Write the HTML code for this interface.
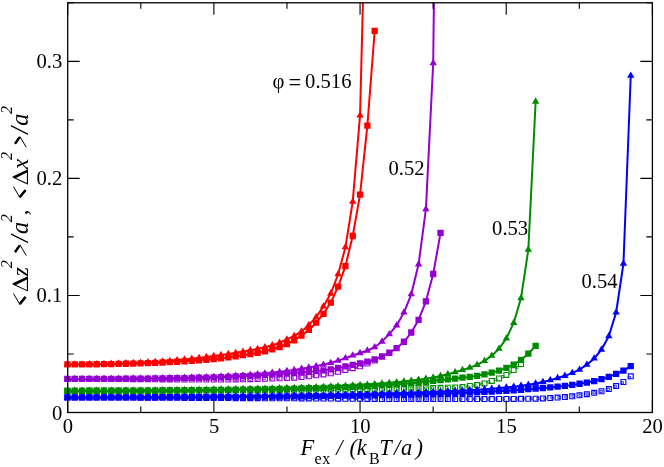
<!DOCTYPE html>
<html><head><meta charset="utf-8"><title>chart</title>
<style>
html,body{margin:0;padding:0;background:#fff;}
body{width:664px;height:467px;overflow:hidden;}
svg{display:block;font-family:"Liberation Serif",serif;font-size:20.6px;fill:#000;}
</style></head><body>
<svg width="664" height="467" viewBox="0 0 664 467">
<rect width="664" height="467" fill="#fff"/>
<defs><clipPath id="c2"><rect x="0" y="2.8" width="664" height="419.7"/></clipPath></defs>
<g clip-path="url(#c2)">
<polyline fill="none" stroke="#ff0000" stroke-width="2.0" stroke-linejoin="round" points="67.4,364.46 74.72,364.42 82.03,364.33 89.35,364.23 96.67,364.11 103.98,363.96 111.3,363.77 118.61,363.54 125.93,363.29 133.25,363.01 140.56,362.68 147.88,362.31 155.19,361.89 162.51,361.41 169.83,360.85 177.14,360.23 184.46,359.55 191.78,358.79 199.09,357.94 206.41,357.01 213.73,356.04 221.04,355.04 228.36,353.98 235.67,352.84 242.99,351.59 250.31,350.27 257.62,348.85 264.94,347.22 272.25,345.28 279.57,342.66 286.89,339.43 294.2,335.87 301.52,331.47 308.84,325.03 316.15,317.08 323.47,306.43 330.79,293.56 338.1,274.26 345.42,247.23 352.73,201.6 360.05,115.37 367.37,-172.8"/>
<path fill="#ff0000" d="M67.4 360.26L71.1 366.56L63.7 366.56zM74.72 360.22L78.42 366.52L71.02 366.52zM82.03 360.13L85.73 366.43L78.33 366.43zM89.35 360.03L93.05 366.33L85.65 366.33zM96.67 359.91L100.37 366.21L92.97 366.21zM103.98 359.76L107.68 366.06L100.28 366.06zM111.3 359.57L115 365.87L107.6 365.87zM118.61 359.34L122.31 365.64L114.91 365.64zM125.93 359.09L129.63 365.39L122.23 365.39zM133.25 358.81L136.95 365.11L129.55 365.11zM140.56 358.48L144.26 364.78L136.86 364.78zM147.88 358.11L151.58 364.41L144.18 364.41zM155.19 357.69L158.89 363.99L151.5 363.99zM162.51 357.21L166.21 363.51L158.81 363.51zM169.83 356.65L173.53 362.95L166.13 362.95zM177.14 356.03L180.84 362.33L173.44 362.33zM184.46 355.35L188.16 361.65L180.76 361.65zM191.78 354.59L195.48 360.89L188.08 360.89zM199.09 353.74L202.79 360.04L195.39 360.04zM206.41 352.81L210.11 359.11L202.71 359.11zM213.73 351.84L217.43 358.14L210.03 358.14zM221.04 350.84L224.74 357.14L217.34 357.14zM228.36 349.78L232.06 356.08L224.66 356.08zM235.67 348.64L239.37 354.94L231.97 354.94zM242.99 347.39L246.69 353.69L239.29 353.69zM250.31 346.07L254.01 352.37L246.61 352.37zM257.62 344.65L261.32 350.95L253.92 350.95zM264.94 343.02L268.64 349.32L261.24 349.32zM272.25 341.08L275.95 347.38L268.56 347.38zM279.57 338.46L283.27 344.76L275.87 344.76zM286.89 335.23L290.59 341.53L283.19 341.53zM294.2 331.67L297.9 337.97L290.5 337.97zM301.52 327.27L305.22 333.57L297.82 333.57zM308.84 320.83L312.54 327.13L305.14 327.13zM316.15 312.88L319.85 319.18L312.45 319.18zM323.47 302.23L327.17 308.53L319.77 308.53zM330.79 289.36L334.49 295.66L327.09 295.66zM338.1 270.06L341.8 276.36L334.4 276.36zM345.42 243.03L349.12 249.33L341.72 249.33zM352.73 197.4L356.43 203.7L349.03 203.7zM360.05 111.17L363.75 117.47L356.35 117.47zM367.37 -177L371.07 -170.7L363.67 -170.7z"/>
<polyline fill="none" stroke="#ff0000" stroke-width="2.0" stroke-linejoin="round" points="67.4,364.46 74.72,364.43 82.03,364.37 89.35,364.3 96.67,364.23 103.98,364.14 111.3,364.03 118.61,363.91 125.93,363.76 133.25,363.58 140.56,363.36 147.88,363.11 155.19,362.83 162.51,362.51 169.83,362.14 177.14,361.74 184.46,361.31 191.78,360.86 199.09,360.37 206.41,359.83 213.73,359.2 221.04,358.4 228.36,357.42 235.67,356.33 242.99,355.22 250.31,354.13 257.62,352.88 264.94,351.28 272.25,349.37 279.57,347.15 286.89,343.99 294.2,340.36 301.52,335.56 308.84,329.95 316.15,322.69 323.47,313.8 330.79,302.57 338.1,286.54 345.42,266.18 352.73,236 360.05,194.58 367.37,125.55 374.68,30.78"/>
<path fill="#ff0000" d="M64.25 361.31h6.3v6.3h-6.3zM71.57 361.28h6.3v6.3h-6.3zM78.88 361.22h6.3v6.3h-6.3zM86.2 361.15h6.3v6.3h-6.3zM93.52 361.08h6.3v6.3h-6.3zM100.83 360.99h6.3v6.3h-6.3zM108.15 360.88h6.3v6.3h-6.3zM115.46 360.76h6.3v6.3h-6.3zM122.78 360.61h6.3v6.3h-6.3zM130.1 360.43h6.3v6.3h-6.3zM137.41 360.21h6.3v6.3h-6.3zM144.73 359.96h6.3v6.3h-6.3zM152.04 359.68h6.3v6.3h-6.3zM159.36 359.36h6.3v6.3h-6.3zM166.68 358.99h6.3v6.3h-6.3zM173.99 358.59h6.3v6.3h-6.3zM181.31 358.16h6.3v6.3h-6.3zM188.63 357.71h6.3v6.3h-6.3zM195.94 357.22h6.3v6.3h-6.3zM203.26 356.68h6.3v6.3h-6.3zM210.58 356.05h6.3v6.3h-6.3zM217.89 355.25h6.3v6.3h-6.3zM225.21 354.27h6.3v6.3h-6.3zM232.52 353.18h6.3v6.3h-6.3zM239.84 352.07h6.3v6.3h-6.3zM247.16 350.98h6.3v6.3h-6.3zM254.47 349.73h6.3v6.3h-6.3zM261.79 348.13h6.3v6.3h-6.3zM269.11 346.22h6.3v6.3h-6.3zM276.42 344h6.3v6.3h-6.3zM283.74 340.84h6.3v6.3h-6.3zM291.05 337.21h6.3v6.3h-6.3zM298.37 332.41h6.3v6.3h-6.3zM305.69 326.8h6.3v6.3h-6.3zM313 319.55h6.3v6.3h-6.3zM320.32 310.65h6.3v6.3h-6.3zM327.64 299.42h6.3v6.3h-6.3zM334.95 283.39h6.3v6.3h-6.3zM342.27 263.03h6.3v6.3h-6.3zM349.58 232.85h6.3v6.3h-6.3zM356.9 191.43h6.3v6.3h-6.3zM364.22 122.4h6.3v6.3h-6.3zM371.53 27.63h6.3v6.3h-6.3z"/>
<path fill="#ffffff" stroke="#9400d3" stroke-width="1.1" d="M64.95 376.52h4.9v4.9h-4.9zM72.27 376.52h4.9v4.9h-4.9zM79.58 376.53h4.9v4.9h-4.9zM86.9 376.54h4.9v4.9h-4.9zM94.22 376.56h4.9v4.9h-4.9zM101.53 376.57h4.9v4.9h-4.9zM108.85 376.59h4.9v4.9h-4.9zM116.16 376.61h4.9v4.9h-4.9zM123.48 376.64h4.9v4.9h-4.9zM130.8 376.68h4.9v4.9h-4.9zM138.11 376.74h4.9v4.9h-4.9zM145.43 376.81h4.9v4.9h-4.9zM152.75 376.87h4.9v4.9h-4.9zM160.06 376.94h4.9v4.9h-4.9zM167.38 377.02h4.9v4.9h-4.9zM174.69 377.08h4.9v4.9h-4.9zM182.01 377.11h4.9v4.9h-4.9zM189.33 377.11h4.9v4.9h-4.9zM196.64 377.11h4.9v4.9h-4.9zM203.96 377.11h4.9v4.9h-4.9zM211.28 377.11h4.9v4.9h-4.9zM218.59 377.09h4.9v4.9h-4.9zM225.91 377.03h4.9v4.9h-4.9zM233.22 376.96h4.9v4.9h-4.9zM240.54 376.87h4.9v4.9h-4.9zM247.86 376.76h4.9v4.9h-4.9zM255.17 376.59h4.9v4.9h-4.9zM262.49 376.39h4.9v4.9h-4.9zM269.81 376.17h4.9v4.9h-4.9zM277.12 375.91h4.9v4.9h-4.9zM284.44 375.59h4.9v4.9h-4.9zM291.75 375.18h4.9v4.9h-4.9zM299.07 374.65h4.9v4.9h-4.9zM306.39 373.85h4.9v4.9h-4.9zM313.7 372.89h4.9v4.9h-4.9zM321.02 371.98h4.9v4.9h-4.9zM328.34 370.91h4.9v4.9h-4.9zM335.65 369.4h4.9v4.9h-4.9zM342.97 367.63h4.9v4.9h-4.9zM350.28 365.76h4.9v4.9h-4.9zM357.6 363.89h4.9v4.9h-4.9zM364.92 361.08h4.9v4.9h-4.9zM372.23 358.04h4.9v4.9h-4.9z"/>
<path fill="none" stroke="#9400d3" stroke-width="0.8" d="M66.25 377.82h2.3v2.3h-2.3zM73.27 377.82h2.3v2.3h-2.3zM80.3 377.83h2.3v2.3h-2.3zM87.32 377.84h2.3v2.3h-2.3zM94.34 377.85h2.3v2.3h-2.3zM101.37 377.87h2.3v2.3h-2.3zM108.39 377.89h2.3v2.3h-2.3zM115.42 377.91h2.3v2.3h-2.3zM122.44 377.93h2.3v2.3h-2.3zM129.46 377.96h2.3v2.3h-2.3zM136.49 378.01h2.3v2.3h-2.3zM143.51 378.08h2.3v2.3h-2.3zM150.53 378.14h2.3v2.3h-2.3zM157.56 378.2h2.3v2.3h-2.3zM164.58 378.28h2.3v2.3h-2.3zM171.6 378.35h2.3v2.3h-2.3zM178.63 378.4h2.3v2.3h-2.3zM185.65 378.41h2.3v2.3h-2.3zM192.67 378.41h2.3v2.3h-2.3zM199.7 378.41h2.3v2.3h-2.3zM206.72 378.41h2.3v2.3h-2.3zM213.75 378.41h2.3v2.3h-2.3zM220.77 378.38h2.3v2.3h-2.3zM227.79 378.33h2.3v2.3h-2.3zM234.82 378.26h2.3v2.3h-2.3zM241.84 378.17h2.3v2.3h-2.3zM248.86 378.06h2.3v2.3h-2.3zM255.89 377.91h2.3v2.3h-2.3zM262.91 377.72h2.3v2.3h-2.3zM269.93 377.51h2.3v2.3h-2.3zM276.96 377.27h2.3v2.3h-2.3zM283.98 376.97h2.3v2.3h-2.3zM291.01 376.6h2.3v2.3h-2.3zM298.03 376.14h2.3v2.3h-2.3zM305.05 375.48h2.3v2.3h-2.3zM312.08 374.58h2.3v2.3h-2.3zM319.1 373.68h2.3v2.3h-2.3zM326.12 372.76h2.3v2.3h-2.3zM333.15 371.54h2.3v2.3h-2.3zM340.17 369.93h2.3v2.3h-2.3zM347.19 368.2h2.3v2.3h-2.3zM354.22 366.41h2.3v2.3h-2.3zM361.24 364.38h2.3v2.3h-2.3zM368.26 361.55h2.3v2.3h-2.3z"/>
<polyline fill="none" stroke="#9400d3" stroke-width="2.0" stroke-linejoin="round" points="67.4,378.97 74.72,378.96 82.03,378.93 89.35,378.9 96.67,378.85 103.98,378.8 111.3,378.74 118.61,378.68 125.93,378.62 133.25,378.55 140.56,378.46 147.88,378.36 155.19,378.24 162.51,378.12 169.83,377.98 177.14,377.84 184.46,377.69 191.78,377.52 199.09,377.33 206.41,377.11 213.73,376.87 221.04,376.57 228.36,376.22 235.67,375.81 242.99,375.34 250.31,374.8 257.62,374.15 264.94,373.42 272.25,372.65 279.57,371.83 286.89,370.9 294.2,369.88 301.52,368.75 308.84,367.51 316.15,366.13 323.47,364.6 330.79,362.83 338.1,360.65 345.42,358.1 352.73,355.45 360.05,353.05 367.37,350.57 374.68,347.26 382,341.53 389.32,334.16 396.63,325.39 403.95,312.52 411.26,294.26 418.58,264.31 425.9,209.09 433.21,63.07 440.53,-582.3"/>
<path fill="#9400d3" d="M67.4 374.77L71.1 381.07L63.7 381.07zM74.72 374.76L78.42 381.06L71.02 381.06zM82.03 374.73L85.73 381.03L78.33 381.03zM89.35 374.7L93.05 381L85.65 381zM96.67 374.65L100.37 380.95L92.97 380.95zM103.98 374.6L107.68 380.9L100.28 380.9zM111.3 374.54L115 380.84L107.6 380.84zM118.61 374.48L122.31 380.78L114.91 380.78zM125.93 374.42L129.63 380.72L122.23 380.72zM133.25 374.35L136.95 380.65L129.55 380.65zM140.56 374.26L144.26 380.56L136.86 380.56zM147.88 374.16L151.58 380.46L144.18 380.46zM155.19 374.04L158.89 380.34L151.5 380.34zM162.51 373.92L166.21 380.22L158.81 380.22zM169.83 373.78L173.53 380.08L166.13 380.08zM177.14 373.64L180.84 379.94L173.44 379.94zM184.46 373.49L188.16 379.79L180.76 379.79zM191.78 373.32L195.48 379.62L188.08 379.62zM199.09 373.13L202.79 379.43L195.39 379.43zM206.41 372.91L210.11 379.21L202.71 379.21zM213.73 372.67L217.43 378.97L210.03 378.97zM221.04 372.37L224.74 378.67L217.34 378.67zM228.36 372.02L232.06 378.32L224.66 378.32zM235.67 371.61L239.37 377.91L231.97 377.91zM242.99 371.14L246.69 377.44L239.29 377.44zM250.31 370.6L254.01 376.9L246.61 376.9zM257.62 369.95L261.32 376.25L253.92 376.25zM264.94 369.22L268.64 375.52L261.24 375.52zM272.25 368.45L275.95 374.75L268.56 374.75zM279.57 367.63L283.27 373.93L275.87 373.93zM286.89 366.7L290.59 373L283.19 373zM294.2 365.68L297.9 371.98L290.5 371.98zM301.52 364.55L305.22 370.85L297.82 370.85zM308.84 363.31L312.54 369.61L305.14 369.61zM316.15 361.93L319.85 368.23L312.45 368.23zM323.47 360.4L327.17 366.7L319.77 366.7zM330.79 358.63L334.49 364.93L327.09 364.93zM338.1 356.45L341.8 362.75L334.4 362.75zM345.42 353.9L349.12 360.2L341.72 360.2zM352.73 351.25L356.43 357.56L349.03 357.56zM360.05 348.85L363.75 355.15L356.35 355.15zM367.37 346.37L371.07 352.67L363.67 352.67zM374.68 343.06L378.38 349.37L370.98 349.37zM382 337.33L385.7 343.63L378.3 343.63zM389.32 329.96L393.02 336.26L385.62 336.26zM396.63 321.19L400.33 327.49L392.93 327.49zM403.95 308.32L407.65 314.62L400.25 314.62zM411.26 290.06L414.96 296.36L407.56 296.36zM418.58 260.11L422.28 266.41L414.88 266.41zM425.9 204.89L429.6 211.19L422.2 211.19zM433.21 58.87L436.91 65.17L429.51 65.17zM440.53 -586.5L444.23 -580.2L436.83 -580.2z"/>
<polyline fill="none" stroke="#9400d3" stroke-width="2.0" stroke-linejoin="round" points="67.4,378.97 74.72,378.97 82.03,378.95 89.35,378.93 96.67,378.9 103.98,378.86 111.3,378.82 118.61,378.78 125.93,378.74 133.25,378.69 140.56,378.62 147.88,378.55 155.19,378.46 162.51,378.37 169.83,378.27 177.14,378.15 184.46,378.04 191.78,377.9 199.09,377.73 206.41,377.54 213.73,377.33 221.04,377.09 228.36,376.81 235.67,376.5 242.99,376.16 250.31,375.8 257.62,375.4 264.94,374.97 272.25,374.53 279.57,374.07 286.89,373.59 294.2,373.09 301.52,372.54 308.84,371.88 316.15,371.13 323.47,370.33 330.79,369.38 338.1,368.02 345.42,366.45 352.73,364.93 360.05,363.29 367.37,361.54 374.68,359.32 382,356.51 389.32,352.76 396.63,348.2 403.95,341.77 411.26,332.52 418.58,319.89 425.9,301.28 433.21,274.02 440.53,232.84"/>
<path fill="#9400d3" d="M64.25 375.82h6.3v6.3h-6.3zM71.57 375.82h6.3v6.3h-6.3zM78.88 375.8h6.3v6.3h-6.3zM86.2 375.78h6.3v6.3h-6.3zM93.52 375.75h6.3v6.3h-6.3zM100.83 375.71h6.3v6.3h-6.3zM108.15 375.67h6.3v6.3h-6.3zM115.46 375.63h6.3v6.3h-6.3zM122.78 375.59h6.3v6.3h-6.3zM130.1 375.54h6.3v6.3h-6.3zM137.41 375.47h6.3v6.3h-6.3zM144.73 375.4h6.3v6.3h-6.3zM152.04 375.31h6.3v6.3h-6.3zM159.36 375.22h6.3v6.3h-6.3zM166.68 375.12h6.3v6.3h-6.3zM173.99 375h6.3v6.3h-6.3zM181.31 374.89h6.3v6.3h-6.3zM188.63 374.75h6.3v6.3h-6.3zM195.94 374.58h6.3v6.3h-6.3zM203.26 374.39h6.3v6.3h-6.3zM210.58 374.18h6.3v6.3h-6.3zM217.89 373.94h6.3v6.3h-6.3zM225.21 373.66h6.3v6.3h-6.3zM232.52 373.35h6.3v6.3h-6.3zM239.84 373.01h6.3v6.3h-6.3zM247.16 372.65h6.3v6.3h-6.3zM254.47 372.25h6.3v6.3h-6.3zM261.79 371.82h6.3v6.3h-6.3zM269.11 371.38h6.3v6.3h-6.3zM276.42 370.92h6.3v6.3h-6.3zM283.74 370.44h6.3v6.3h-6.3zM291.05 369.94h6.3v6.3h-6.3zM298.37 369.39h6.3v6.3h-6.3zM305.69 368.73h6.3v6.3h-6.3zM313 367.98h6.3v6.3h-6.3zM320.32 367.18h6.3v6.3h-6.3zM327.64 366.23h6.3v6.3h-6.3zM334.95 364.87h6.3v6.3h-6.3zM342.27 363.3h6.3v6.3h-6.3zM349.58 361.78h6.3v6.3h-6.3zM356.9 360.14h6.3v6.3h-6.3zM364.22 358.39h6.3v6.3h-6.3zM371.53 356.17h6.3v6.3h-6.3zM378.85 353.36h6.3v6.3h-6.3zM386.17 349.61h6.3v6.3h-6.3zM393.48 345.05h6.3v6.3h-6.3zM400.8 338.62h6.3v6.3h-6.3zM408.11 329.37h6.3v6.3h-6.3zM415.43 316.74h6.3v6.3h-6.3zM422.75 298.13h6.3v6.3h-6.3zM430.06 270.87h6.3v6.3h-6.3zM437.38 229.69h6.3v6.3h-6.3z"/>
<path fill="#ffffff" stroke="#008b00" stroke-width="1.1" d="M64.95 388.34h4.9v4.9h-4.9zM72.27 388.34h4.9v4.9h-4.9zM79.58 388.33h4.9v4.9h-4.9zM86.9 388.33h4.9v4.9h-4.9zM94.22 388.32h4.9v4.9h-4.9zM101.53 388.31h4.9v4.9h-4.9zM108.85 388.3h4.9v4.9h-4.9zM116.16 388.28h4.9v4.9h-4.9zM123.48 388.27h4.9v4.9h-4.9zM130.8 388.25h4.9v4.9h-4.9zM138.11 388.23h4.9v4.9h-4.9zM145.43 388.21h4.9v4.9h-4.9zM152.75 388.19h4.9v4.9h-4.9zM160.06 388.17h4.9v4.9h-4.9zM167.38 388.15h4.9v4.9h-4.9zM174.69 388.13h4.9v4.9h-4.9zM182.01 388.11h4.9v4.9h-4.9zM189.33 388.08h4.9v4.9h-4.9zM196.64 388.05h4.9v4.9h-4.9zM203.96 388.01h4.9v4.9h-4.9zM211.28 387.97h4.9v4.9h-4.9zM218.59 387.93h4.9v4.9h-4.9zM225.91 387.88h4.9v4.9h-4.9zM233.22 387.83h4.9v4.9h-4.9zM240.54 387.78h4.9v4.9h-4.9zM247.86 387.72h4.9v4.9h-4.9zM255.17 387.67h4.9v4.9h-4.9zM262.49 387.61h4.9v4.9h-4.9zM269.81 387.54h4.9v4.9h-4.9zM277.12 387.48h4.9v4.9h-4.9zM284.44 387.42h4.9v4.9h-4.9zM291.75 387.35h4.9v4.9h-4.9zM299.07 387.29h4.9v4.9h-4.9zM306.39 387.22h4.9v4.9h-4.9zM313.7 387.14h4.9v4.9h-4.9zM321.02 387.07h4.9v4.9h-4.9zM328.34 386.98h4.9v4.9h-4.9zM335.65 386.9h4.9v4.9h-4.9zM342.97 386.81h4.9v4.9h-4.9zM350.28 386.72h4.9v4.9h-4.9zM357.6 386.63h4.9v4.9h-4.9zM364.92 386.53h4.9v4.9h-4.9zM372.23 386.44h4.9v4.9h-4.9zM379.55 386.35h4.9v4.9h-4.9zM386.87 386.26h4.9v4.9h-4.9zM394.18 386.18h4.9v4.9h-4.9zM401.5 386.09h4.9v4.9h-4.9zM408.81 386h4.9v4.9h-4.9zM416.13 385.88h4.9v4.9h-4.9zM423.45 385.75h4.9v4.9h-4.9zM430.76 385.58h4.9v4.9h-4.9zM438.08 385.39h4.9v4.9h-4.9zM445.4 385.18h4.9v4.9h-4.9zM452.71 384.95h4.9v4.9h-4.9zM460.03 384.59h4.9v4.9h-4.9zM467.34 383.54h4.9v4.9h-4.9zM474.66 382.61h4.9v4.9h-4.9zM481.98 380.97h4.9v4.9h-4.9zM489.29 378.51h4.9v4.9h-4.9zM496.61 375.94h4.9v4.9h-4.9zM503.93 372.43h4.9v4.9h-4.9zM511.24 367.63h4.9v4.9h-4.9zM518.56 361.66h4.9v4.9h-4.9z"/>
<path fill="none" stroke="#008b00" stroke-width="0.8" d="M66.25 389.64h2.3v2.3h-2.3zM73.27 389.64h2.3v2.3h-2.3zM80.3 389.63h2.3v2.3h-2.3zM87.32 389.63h2.3v2.3h-2.3zM94.34 389.62h2.3v2.3h-2.3zM101.37 389.61h2.3v2.3h-2.3zM108.39 389.6h2.3v2.3h-2.3zM115.42 389.59h2.3v2.3h-2.3zM122.44 389.57h2.3v2.3h-2.3zM129.46 389.56h2.3v2.3h-2.3zM136.49 389.54h2.3v2.3h-2.3zM143.51 389.52h2.3v2.3h-2.3zM150.53 389.5h2.3v2.3h-2.3zM157.56 389.48h2.3v2.3h-2.3zM164.58 389.46h2.3v2.3h-2.3zM171.6 389.44h2.3v2.3h-2.3zM178.63 389.42h2.3v2.3h-2.3zM185.65 389.4h2.3v2.3h-2.3zM192.67 389.37h2.3v2.3h-2.3zM199.7 389.34h2.3v2.3h-2.3zM206.72 389.31h2.3v2.3h-2.3zM213.75 389.27h2.3v2.3h-2.3zM220.77 389.23h2.3v2.3h-2.3zM227.79 389.18h2.3v2.3h-2.3zM234.82 389.13h2.3v2.3h-2.3zM241.84 389.08h2.3v2.3h-2.3zM248.86 389.03h2.3v2.3h-2.3zM255.89 388.97h2.3v2.3h-2.3zM262.91 388.91h2.3v2.3h-2.3zM269.93 388.85h2.3v2.3h-2.3zM276.96 388.79h2.3v2.3h-2.3zM283.98 388.73h2.3v2.3h-2.3zM291.01 388.67h2.3v2.3h-2.3zM298.03 388.61h2.3v2.3h-2.3zM305.05 388.54h2.3v2.3h-2.3zM312.08 388.47h2.3v2.3h-2.3zM319.1 388.4h2.3v2.3h-2.3zM326.12 388.32h2.3v2.3h-2.3zM333.15 388.24h2.3v2.3h-2.3zM340.17 388.16h2.3v2.3h-2.3zM347.19 388.07h2.3v2.3h-2.3zM354.22 387.98h2.3v2.3h-2.3zM361.24 387.9h2.3v2.3h-2.3zM368.26 387.81h2.3v2.3h-2.3zM375.29 387.72h2.3v2.3h-2.3zM382.31 387.63h2.3v2.3h-2.3zM389.34 387.55h2.3v2.3h-2.3zM396.36 387.47h2.3v2.3h-2.3zM403.38 387.39h2.3v2.3h-2.3zM410.41 387.29h2.3v2.3h-2.3zM417.43 387.18h2.3v2.3h-2.3zM424.45 387.05h2.3v2.3h-2.3zM431.48 386.9h2.3v2.3h-2.3zM438.5 386.72h2.3v2.3h-2.3zM445.52 386.52h2.3v2.3h-2.3zM452.55 386.3h2.3v2.3h-2.3zM459.57 386h2.3v2.3h-2.3zM466.6 385.16h2.3v2.3h-2.3zM473.62 384.24h2.3v2.3h-2.3zM480.64 382.94h2.3v2.3h-2.3zM487.67 380.85h2.3v2.3h-2.3zM494.69 378.43h2.3v2.3h-2.3zM501.71 375.55h2.3v2.3h-2.3zM508.74 371.59h2.3v2.3h-2.3zM515.76 366.47h2.3v2.3h-2.3z"/>
<polyline fill="none" stroke="#008b00" stroke-width="2.0" stroke-linejoin="round" points="67.4,390.79 74.72,390.78 82.03,390.76 89.35,390.74 96.67,390.71 103.98,390.67 111.3,390.64 118.61,390.6 125.93,390.56 133.25,390.51 140.56,390.45 147.88,390.38 155.19,390.31 162.51,390.23 169.83,390.15 177.14,390.06 184.46,389.97 191.78,389.88 199.09,389.78 206.41,389.67 213.73,389.55 221.04,389.43 228.36,389.3 235.67,389.17 242.99,389.03 250.31,388.89 257.62,388.74 264.94,388.58 272.25,388.42 279.57,388.24 286.89,388.05 294.2,387.85 301.52,387.63 308.84,387.39 316.15,387.13 323.47,386.84 330.79,386.53 338.1,386.2 345.42,385.84 352.73,385.46 360.05,385.06 367.37,384.61 374.68,384.12 382,383.56 389.32,382.95 396.63,382.26 403.95,381.46 411.26,380.6 418.58,379.67 425.9,378.71 433.21,377.57 440.53,376.02 447.85,374.18 455.16,372.09 462.48,369.85 469.79,367.62 477.11,364.81 484.43,360.84 491.74,355.69 499.06,348.67 506.38,338.37 513.69,322.93 521.01,298.12 528.32,249.69 535.64,101.56"/>
<path fill="#008b00" d="M67.4 386.59L71.1 392.89L63.7 392.89zM74.72 386.58L78.42 392.88L71.02 392.88zM82.03 386.56L85.73 392.86L78.33 392.86zM89.35 386.54L93.05 392.84L85.65 392.84zM96.67 386.51L100.37 392.81L92.97 392.81zM103.98 386.47L107.68 392.77L100.28 392.77zM111.3 386.44L115 392.74L107.6 392.74zM118.61 386.4L122.31 392.7L114.91 392.7zM125.93 386.36L129.63 392.66L122.23 392.66zM133.25 386.31L136.95 392.61L129.55 392.61zM140.56 386.25L144.26 392.55L136.86 392.55zM147.88 386.18L151.58 392.48L144.18 392.48zM155.19 386.11L158.89 392.41L151.5 392.41zM162.51 386.03L166.21 392.33L158.81 392.33zM169.83 385.95L173.53 392.25L166.13 392.25zM177.14 385.86L180.84 392.16L173.44 392.16zM184.46 385.77L188.16 392.07L180.76 392.07zM191.78 385.68L195.48 391.98L188.08 391.98zM199.09 385.58L202.79 391.88L195.39 391.88zM206.41 385.47L210.11 391.77L202.71 391.77zM213.73 385.35L217.43 391.65L210.03 391.65zM221.04 385.23L224.74 391.53L217.34 391.53zM228.36 385.1L232.06 391.4L224.66 391.4zM235.67 384.97L239.37 391.27L231.97 391.27zM242.99 384.83L246.69 391.13L239.29 391.13zM250.31 384.69L254.01 390.99L246.61 390.99zM257.62 384.54L261.32 390.84L253.92 390.84zM264.94 384.38L268.64 390.68L261.24 390.68zM272.25 384.22L275.95 390.52L268.56 390.52zM279.57 384.04L283.27 390.34L275.87 390.34zM286.89 383.85L290.59 390.15L283.19 390.15zM294.2 383.65L297.9 389.95L290.5 389.95zM301.52 383.43L305.22 389.73L297.82 389.73zM308.84 383.19L312.54 389.49L305.14 389.49zM316.15 382.93L319.85 389.23L312.45 389.23zM323.47 382.64L327.17 388.94L319.77 388.94zM330.79 382.33L334.49 388.63L327.09 388.63zM338.1 382L341.8 388.3L334.4 388.3zM345.42 381.64L349.12 387.94L341.72 387.94zM352.73 381.26L356.43 387.56L349.03 387.56zM360.05 380.86L363.75 387.16L356.35 387.16zM367.37 380.41L371.07 386.71L363.67 386.71zM374.68 379.92L378.38 386.22L370.98 386.22zM382 379.36L385.7 385.66L378.3 385.66zM389.32 378.75L393.02 385.05L385.62 385.05zM396.63 378.06L400.33 384.36L392.93 384.36zM403.95 377.26L407.65 383.56L400.25 383.56zM411.26 376.4L414.96 382.7L407.56 382.7zM418.58 375.47L422.28 381.77L414.88 381.77zM425.9 374.51L429.6 380.81L422.2 380.81zM433.21 373.37L436.91 379.67L429.51 379.67zM440.53 371.82L444.23 378.12L436.83 378.12zM447.85 369.98L451.55 376.28L444.15 376.28zM455.16 367.89L458.86 374.19L451.46 374.19zM462.48 365.65L466.18 371.95L458.78 371.95zM469.79 363.42L473.49 369.72L466.09 369.72zM477.11 360.62L480.81 366.92L473.41 366.92zM484.43 356.64L488.13 362.94L480.73 362.94zM491.74 351.49L495.44 357.79L488.04 357.79zM499.06 344.47L502.76 350.77L495.36 350.77zM506.38 334.17L510.08 340.47L502.68 340.47zM513.69 318.73L517.39 325.03L509.99 325.03zM521.01 293.92L524.71 300.22L517.31 300.22zM528.32 245.49L532.02 251.79L524.62 251.79zM535.64 97.36L539.34 103.66L531.94 103.66z"/>
<polyline fill="none" stroke="#008b00" stroke-width="2.0" stroke-linejoin="round" points="67.4,390.79 74.72,390.79 82.03,390.78 89.35,390.77 96.67,390.75 103.98,390.73 111.3,390.71 118.61,390.69 125.93,390.67 133.25,390.65 140.56,390.61 147.88,390.58 155.19,390.53 162.51,390.49 169.83,390.43 177.14,390.38 184.46,390.32 191.78,390.26 199.09,390.19 206.41,390.11 213.73,390.02 221.04,389.93 228.36,389.83 235.67,389.73 242.99,389.62 250.31,389.5 257.62,389.38 264.94,389.25 272.25,389.11 279.57,388.96 286.89,388.8 294.2,388.63 301.52,388.45 308.84,388.26 316.15,388.05 323.47,387.82 330.79,387.58 338.1,387.32 345.42,387.05 352.73,386.76 360.05,386.46 367.37,386.14 374.68,385.78 382,385.38 389.32,384.94 396.63,384.42 403.95,383.82 411.26,383.17 418.58,382.48 425.9,381.74 433.21,380.96 440.53,380.21 447.85,379.44 455.16,378.57 462.48,377.69 469.79,376.87 477.11,375.81 484.43,374.29 491.74,372.65 499.06,370.66 506.38,367.86 513.69,364.58 521.01,359.9 528.32,353.7 535.64,345.86"/>
<path fill="#008b00" d="M64.25 387.64h6.3v6.3h-6.3zM71.57 387.64h6.3v6.3h-6.3zM78.88 387.63h6.3v6.3h-6.3zM86.2 387.62h6.3v6.3h-6.3zM93.52 387.6h6.3v6.3h-6.3zM100.83 387.58h6.3v6.3h-6.3zM108.15 387.56h6.3v6.3h-6.3zM115.46 387.54h6.3v6.3h-6.3zM122.78 387.52h6.3v6.3h-6.3zM130.1 387.5h6.3v6.3h-6.3zM137.41 387.46h6.3v6.3h-6.3zM144.73 387.43h6.3v6.3h-6.3zM152.04 387.38h6.3v6.3h-6.3zM159.36 387.34h6.3v6.3h-6.3zM166.68 387.28h6.3v6.3h-6.3zM173.99 387.23h6.3v6.3h-6.3zM181.31 387.17h6.3v6.3h-6.3zM188.63 387.11h6.3v6.3h-6.3zM195.94 387.04h6.3v6.3h-6.3zM203.26 386.96h6.3v6.3h-6.3zM210.58 386.87h6.3v6.3h-6.3zM217.89 386.78h6.3v6.3h-6.3zM225.21 386.68h6.3v6.3h-6.3zM232.52 386.58h6.3v6.3h-6.3zM239.84 386.47h6.3v6.3h-6.3zM247.16 386.35h6.3v6.3h-6.3zM254.47 386.23h6.3v6.3h-6.3zM261.79 386.1h6.3v6.3h-6.3zM269.11 385.96h6.3v6.3h-6.3zM276.42 385.81h6.3v6.3h-6.3zM283.74 385.65h6.3v6.3h-6.3zM291.05 385.48h6.3v6.3h-6.3zM298.37 385.3h6.3v6.3h-6.3zM305.69 385.11h6.3v6.3h-6.3zM313 384.9h6.3v6.3h-6.3zM320.32 384.67h6.3v6.3h-6.3zM327.64 384.43h6.3v6.3h-6.3zM334.95 384.17h6.3v6.3h-6.3zM342.27 383.9h6.3v6.3h-6.3zM349.58 383.61h6.3v6.3h-6.3zM356.9 383.31h6.3v6.3h-6.3zM364.22 382.99h6.3v6.3h-6.3zM371.53 382.63h6.3v6.3h-6.3zM378.85 382.23h6.3v6.3h-6.3zM386.17 381.79h6.3v6.3h-6.3zM393.48 381.27h6.3v6.3h-6.3zM400.8 380.67h6.3v6.3h-6.3zM408.11 380.02h6.3v6.3h-6.3zM415.43 379.33h6.3v6.3h-6.3zM422.75 378.59h6.3v6.3h-6.3zM430.06 377.81h6.3v6.3h-6.3zM437.38 377.06h6.3v6.3h-6.3zM444.7 376.29h6.3v6.3h-6.3zM452.01 375.42h6.3v6.3h-6.3zM459.33 374.54h6.3v6.3h-6.3zM466.64 373.72h6.3v6.3h-6.3zM473.96 372.66h6.3v6.3h-6.3zM481.28 371.14h6.3v6.3h-6.3zM488.59 369.5h6.3v6.3h-6.3zM495.91 367.51h6.3v6.3h-6.3zM503.23 364.71h6.3v6.3h-6.3zM510.54 361.43h6.3v6.3h-6.3zM517.86 356.75h6.3v6.3h-6.3zM525.17 350.55h6.3v6.3h-6.3zM532.49 342.71h6.3v6.3h-6.3z"/>
<path fill="#ffffff" stroke="#0000ff" stroke-width="1.1" d="M64.95 395.01h4.9v4.9h-4.9zM72.27 395.01h4.9v4.9h-4.9zM79.58 395.02h4.9v4.9h-4.9zM86.9 395.04h4.9v4.9h-4.9zM94.22 395.05h4.9v4.9h-4.9zM101.53 395.07h4.9v4.9h-4.9zM108.85 395.09h4.9v4.9h-4.9zM116.16 395.1h4.9v4.9h-4.9zM123.48 395.12h4.9v4.9h-4.9zM130.8 395.15h4.9v4.9h-4.9zM138.11 395.18h4.9v4.9h-4.9zM145.43 395.21h4.9v4.9h-4.9zM152.75 395.25h4.9v4.9h-4.9zM160.06 395.3h4.9v4.9h-4.9zM167.38 395.34h4.9v4.9h-4.9zM174.69 395.39h4.9v4.9h-4.9zM182.01 395.43h4.9v4.9h-4.9zM189.33 395.48h4.9v4.9h-4.9zM196.64 395.52h4.9v4.9h-4.9zM203.96 395.56h4.9v4.9h-4.9zM211.28 395.59h4.9v4.9h-4.9zM218.59 395.63h4.9v4.9h-4.9zM225.91 395.65h4.9v4.9h-4.9zM233.22 395.68h4.9v4.9h-4.9zM240.54 395.71h4.9v4.9h-4.9zM247.86 395.74h4.9v4.9h-4.9zM255.17 395.76h4.9v4.9h-4.9zM262.49 395.79h4.9v4.9h-4.9zM269.81 395.82h4.9v4.9h-4.9zM277.12 395.84h4.9v4.9h-4.9zM284.44 395.87h4.9v4.9h-4.9zM291.75 395.91h4.9v4.9h-4.9zM299.07 395.94h4.9v4.9h-4.9zM306.39 395.99h4.9v4.9h-4.9zM313.7 396.04h4.9v4.9h-4.9zM321.02 396.1h4.9v4.9h-4.9zM328.34 396.17h4.9v4.9h-4.9zM335.65 396.24h4.9v4.9h-4.9zM342.97 396.3h4.9v4.9h-4.9zM350.28 396.36h4.9v4.9h-4.9zM357.6 396.42h4.9v4.9h-4.9zM364.92 396.47h4.9v4.9h-4.9zM372.23 396.51h4.9v4.9h-4.9zM379.55 396.53h4.9v4.9h-4.9zM386.87 396.54h4.9v4.9h-4.9zM394.18 396.56h4.9v4.9h-4.9zM401.5 396.57h4.9v4.9h-4.9zM408.81 396.59h4.9v4.9h-4.9zM416.13 396.6h4.9v4.9h-4.9zM423.45 396.61h4.9v4.9h-4.9zM430.76 396.62h4.9v4.9h-4.9zM438.08 396.63h4.9v4.9h-4.9zM445.4 396.63h4.9v4.9h-4.9zM452.71 396.64h4.9v4.9h-4.9zM460.03 396.64h4.9v4.9h-4.9zM467.34 396.65h4.9v4.9h-4.9zM474.66 396.65h4.9v4.9h-4.9zM481.98 396.64h4.9v4.9h-4.9zM489.29 396.61h4.9v4.9h-4.9zM496.61 396.57h4.9v4.9h-4.9zM503.93 396.53h4.9v4.9h-4.9zM511.24 396.48h4.9v4.9h-4.9zM518.56 396.4h4.9v4.9h-4.9zM525.87 396.3h4.9v4.9h-4.9zM533.19 396.18h4.9v4.9h-4.9zM540.51 395.94h4.9v4.9h-4.9zM547.82 395.59h4.9v4.9h-4.9zM555.14 395.12h4.9v4.9h-4.9zM562.45 394.66h4.9v4.9h-4.9zM569.77 393.84h4.9v4.9h-4.9zM577.09 392.9h4.9v4.9h-4.9zM584.4 391.73h4.9v4.9h-4.9zM591.72 390.33h4.9v4.9h-4.9zM599.04 388.81h4.9v4.9h-4.9zM606.35 386.58h4.9v4.9h-4.9zM613.67 383.66h4.9v4.9h-4.9zM620.99 379.56h4.9v4.9h-4.9zM628.3 373.83h4.9v4.9h-4.9z"/>
<path fill="none" stroke="#0000ff" stroke-width="0.8" d="M66.25 396.31h2.3v2.3h-2.3zM73.27 396.31h2.3v2.3h-2.3zM80.3 396.32h2.3v2.3h-2.3zM87.32 396.33h2.3v2.3h-2.3zM94.34 396.35h2.3v2.3h-2.3zM101.37 396.36h2.3v2.3h-2.3zM108.39 396.38h2.3v2.3h-2.3zM115.42 396.4h2.3v2.3h-2.3zM122.44 396.42h2.3v2.3h-2.3zM129.46 396.44h2.3v2.3h-2.3zM136.49 396.47h2.3v2.3h-2.3zM143.51 396.5h2.3v2.3h-2.3zM150.53 396.53h2.3v2.3h-2.3zM157.56 396.57h2.3v2.3h-2.3zM164.58 396.62h2.3v2.3h-2.3zM171.6 396.66h2.3v2.3h-2.3zM178.63 396.7h2.3v2.3h-2.3zM185.65 396.75h2.3v2.3h-2.3zM192.67 396.79h2.3v2.3h-2.3zM199.7 396.83h2.3v2.3h-2.3zM206.72 396.86h2.3v2.3h-2.3zM213.75 396.9h2.3v2.3h-2.3zM220.77 396.93h2.3v2.3h-2.3zM227.79 396.96h2.3v2.3h-2.3zM234.82 396.98h2.3v2.3h-2.3zM241.84 397.01h2.3v2.3h-2.3zM248.86 397.03h2.3v2.3h-2.3zM255.89 397.06h2.3v2.3h-2.3zM262.91 397.08h2.3v2.3h-2.3zM269.93 397.11h2.3v2.3h-2.3zM276.96 397.14h2.3v2.3h-2.3zM283.98 397.17h2.3v2.3h-2.3zM291.01 397.2h2.3v2.3h-2.3zM298.03 397.23h2.3v2.3h-2.3zM305.05 397.27h2.3v2.3h-2.3zM312.08 397.32h2.3v2.3h-2.3zM319.1 397.38h2.3v2.3h-2.3zM326.12 397.44h2.3v2.3h-2.3zM333.15 397.5h2.3v2.3h-2.3zM340.17 397.56h2.3v2.3h-2.3zM347.19 397.63h2.3v2.3h-2.3zM354.22 397.69h2.3v2.3h-2.3zM361.24 397.74h2.3v2.3h-2.3zM368.26 397.78h2.3v2.3h-2.3zM375.29 397.81h2.3v2.3h-2.3zM382.31 397.83h2.3v2.3h-2.3zM389.34 397.85h2.3v2.3h-2.3zM396.36 397.86h2.3v2.3h-2.3zM403.38 397.87h2.3v2.3h-2.3zM410.41 397.89h2.3v2.3h-2.3zM417.43 397.9h2.3v2.3h-2.3zM424.45 397.91h2.3v2.3h-2.3zM431.48 397.92h2.3v2.3h-2.3zM438.5 397.93h2.3v2.3h-2.3zM445.52 397.93h2.3v2.3h-2.3zM452.55 397.94h2.3v2.3h-2.3zM459.57 397.94h2.3v2.3h-2.3zM466.6 397.94h2.3v2.3h-2.3zM473.62 397.95h2.3v2.3h-2.3zM480.64 397.94h2.3v2.3h-2.3zM487.67 397.92h2.3v2.3h-2.3zM494.69 397.89h2.3v2.3h-2.3zM501.71 397.85h2.3v2.3h-2.3zM508.74 397.81h2.3v2.3h-2.3zM515.76 397.75h2.3v2.3h-2.3zM522.78 397.67h2.3v2.3h-2.3zM529.81 397.56h2.3v2.3h-2.3zM536.83 397.42h2.3v2.3h-2.3zM543.85 397.16h2.3v2.3h-2.3zM550.88 396.79h2.3v2.3h-2.3zM557.9 396.34h2.3v2.3h-2.3zM564.93 395.85h2.3v2.3h-2.3zM571.95 395.03h2.3v2.3h-2.3zM578.97 394.12h2.3v2.3h-2.3zM586 392.98h2.3v2.3h-2.3zM593.02 391.63h2.3v2.3h-2.3zM600.04 390.18h2.3v2.3h-2.3zM607.07 388.09h2.3v2.3h-2.3zM614.09 385.36h2.3v2.3h-2.3zM621.11 381.61h2.3v2.3h-2.3zM628.14 376.44h2.3v2.3h-2.3z"/>
<polyline fill="none" stroke="#0000ff" stroke-width="2.0" stroke-linejoin="round" points="67.4,397.46 74.72,397.44 82.03,397.42 89.35,397.4 96.67,397.37 103.98,397.33 111.3,397.3 118.61,397.26 125.93,397.22 133.25,397.18 140.56,397.13 147.88,397.07 155.19,397.01 162.51,396.94 169.83,396.86 177.14,396.79 184.46,396.71 191.78,396.63 199.09,396.56 206.41,396.48 213.73,396.4 221.04,396.33 228.36,396.26 235.67,396.19 242.99,396.13 250.31,396.06 257.62,395.98 264.94,395.91 272.25,395.83 279.57,395.75 286.89,395.66 294.2,395.57 301.52,395.47 308.84,395.36 316.15,395.23 323.47,395.1 330.79,394.95 338.1,394.8 345.42,394.63 352.73,394.46 360.05,394.28 367.37,394.1 374.68,393.91 382,393.71 389.32,393.51 396.63,393.29 403.95,393.05 411.26,392.8 418.58,392.54 425.9,392.28 433.21,392 440.53,391.7 447.85,391.37 455.16,391.02 462.48,390.63 469.79,390.2 477.11,389.74 484.43,389.24 491.74,388.69 499.06,388.08 506.38,387.4 513.69,386.62 521.01,385.73 528.32,384.71 535.64,383.53 542.96,382.01 550.27,380.14 557.59,378.04 564.9,375.81 572.22,373 579.54,369.61 586.85,364.7 594.17,358.5 601.49,349.6 608.8,336.15 616.12,312.52 623.44,263.73 630.75,75.71"/>
<path fill="#0000ff" d="M67.4 393.26L71.1 399.56L63.7 399.56zM74.72 393.24L78.42 399.54L71.02 399.54zM82.03 393.22L85.73 399.52L78.33 399.52zM89.35 393.2L93.05 399.5L85.65 399.5zM96.67 393.17L100.37 399.47L92.97 399.47zM103.98 393.13L107.68 399.43L100.28 399.43zM111.3 393.1L115 399.4L107.6 399.4zM118.61 393.06L122.31 399.36L114.91 399.36zM125.93 393.02L129.63 399.32L122.23 399.32zM133.25 392.98L136.95 399.28L129.55 399.28zM140.56 392.93L144.26 399.23L136.86 399.23zM147.88 392.87L151.58 399.17L144.18 399.17zM155.19 392.81L158.89 399.11L151.5 399.11zM162.51 392.74L166.21 399.04L158.81 399.04zM169.83 392.66L173.53 398.96L166.13 398.96zM177.14 392.59L180.84 398.89L173.44 398.89zM184.46 392.51L188.16 398.81L180.76 398.81zM191.78 392.43L195.48 398.73L188.08 398.73zM199.09 392.36L202.79 398.66L195.39 398.66zM206.41 392.28L210.11 398.58L202.71 398.58zM213.73 392.2L217.43 398.5L210.03 398.5zM221.04 392.13L224.74 398.43L217.34 398.43zM228.36 392.06L232.06 398.36L224.66 398.36zM235.67 391.99L239.37 398.29L231.97 398.29zM242.99 391.93L246.69 398.23L239.29 398.23zM250.31 391.86L254.01 398.16L246.61 398.16zM257.62 391.78L261.32 398.08L253.92 398.08zM264.94 391.71L268.64 398.01L261.24 398.01zM272.25 391.63L275.95 397.93L268.56 397.93zM279.57 391.55L283.27 397.85L275.87 397.85zM286.89 391.46L290.59 397.76L283.19 397.76zM294.2 391.37L297.9 397.67L290.5 397.67zM301.52 391.27L305.22 397.57L297.82 397.57zM308.84 391.16L312.54 397.46L305.14 397.46zM316.15 391.03L319.85 397.33L312.45 397.33zM323.47 390.9L327.17 397.2L319.77 397.2zM330.79 390.75L334.49 397.05L327.09 397.05zM338.1 390.6L341.8 396.9L334.4 396.9zM345.42 390.43L349.12 396.73L341.72 396.73zM352.73 390.26L356.43 396.56L349.03 396.56zM360.05 390.08L363.75 396.38L356.35 396.38zM367.37 389.9L371.07 396.2L363.67 396.2zM374.68 389.71L378.38 396.01L370.98 396.01zM382 389.51L385.7 395.81L378.3 395.81zM389.32 389.31L393.02 395.61L385.62 395.61zM396.63 389.09L400.33 395.39L392.93 395.39zM403.95 388.85L407.65 395.15L400.25 395.15zM411.26 388.6L414.96 394.9L407.56 394.9zM418.58 388.34L422.28 394.64L414.88 394.64zM425.9 388.08L429.6 394.38L422.2 394.38zM433.21 387.8L436.91 394.1L429.51 394.1zM440.53 387.5L444.23 393.8L436.83 393.8zM447.85 387.17L451.55 393.47L444.15 393.47zM455.16 386.82L458.86 393.12L451.46 393.12zM462.48 386.43L466.18 392.73L458.78 392.73zM469.79 386L473.49 392.3L466.09 392.3zM477.11 385.54L480.81 391.84L473.41 391.84zM484.43 385.04L488.13 391.34L480.73 391.34zM491.74 384.49L495.44 390.79L488.04 390.79zM499.06 383.88L502.76 390.18L495.36 390.18zM506.38 383.2L510.08 389.5L502.68 389.5zM513.69 382.42L517.39 388.72L509.99 388.72zM521.01 381.53L524.71 387.83L517.31 387.83zM528.32 380.51L532.02 386.81L524.62 386.81zM535.64 379.33L539.34 385.63L531.94 385.63zM542.96 377.81L546.66 384.11L539.26 384.11zM550.27 375.94L553.97 382.24L546.57 382.24zM557.59 373.84L561.29 380.14L553.89 380.14zM564.9 371.61L568.61 377.91L561.2 377.91zM572.22 368.81L575.92 375.11L568.52 375.11zM579.54 365.41L583.24 371.71L575.84 371.71zM586.85 360.5L590.55 366.8L583.15 366.8zM594.17 354.3L597.87 360.6L590.47 360.6zM601.49 345.4L605.19 351.7L597.79 351.7zM608.8 331.95L612.5 338.25L605.1 338.25zM616.12 308.32L619.82 314.62L612.42 314.62zM623.44 259.53L627.14 265.83L619.74 265.83zM630.75 71.51L634.45 77.81L627.05 77.81z"/>
<polyline fill="none" stroke="#0000ff" stroke-width="2.0" stroke-linejoin="round" points="67.4,397.46 74.72,397.45 82.03,397.44 89.35,397.42 96.67,397.41 103.98,397.39 111.3,397.38 118.61,397.36 125.93,397.34 133.25,397.32 140.56,397.3 147.88,397.28 155.19,397.25 162.51,397.22 169.83,397.2 177.14,397.17 184.46,397.13 191.78,397.1 199.09,397.06 206.41,397.03 213.73,396.99 221.04,396.95 228.36,396.9 235.67,396.86 242.99,396.81 250.31,396.75 257.62,396.69 264.94,396.63 272.25,396.57 279.57,396.5 286.89,396.43 294.2,396.36 301.52,396.29 308.84,396.21 316.15,396.12 323.47,396.03 330.79,395.93 338.1,395.82 345.42,395.71 352.73,395.6 360.05,395.48 367.37,395.36 374.68,395.24 382,395.12 389.32,394.99 396.63,394.87 403.95,394.73 411.26,394.58 418.58,394.42 425.9,394.22 433.21,393.99 440.53,393.74 447.85,393.48 455.16,393.21 462.48,392.93 469.79,392.63 477.11,392.31 484.43,391.97 491.74,391.61 499.06,391.22 506.38,390.79 513.69,390.3 521.01,389.74 528.32,389.16 535.64,388.57 542.96,387.98 550.27,387.4 557.59,386.69 564.9,385.88 572.22,384.94 579.54,383.77 586.85,382.6 594.17,381.08 601.49,379.21 608.8,376.87 616.12,373.94 623.44,370.55 630.75,366.22"/>
<path fill="#0000ff" d="M64.25 394.31h6.3v6.3h-6.3zM71.57 394.3h6.3v6.3h-6.3zM78.88 394.29h6.3v6.3h-6.3zM86.2 394.27h6.3v6.3h-6.3zM93.52 394.26h6.3v6.3h-6.3zM100.83 394.24h6.3v6.3h-6.3zM108.15 394.23h6.3v6.3h-6.3zM115.46 394.21h6.3v6.3h-6.3zM122.78 394.19h6.3v6.3h-6.3zM130.1 394.17h6.3v6.3h-6.3zM137.41 394.15h6.3v6.3h-6.3zM144.73 394.13h6.3v6.3h-6.3zM152.04 394.1h6.3v6.3h-6.3zM159.36 394.07h6.3v6.3h-6.3zM166.68 394.05h6.3v6.3h-6.3zM173.99 394.02h6.3v6.3h-6.3zM181.31 393.98h6.3v6.3h-6.3zM188.63 393.95h6.3v6.3h-6.3zM195.94 393.91h6.3v6.3h-6.3zM203.26 393.88h6.3v6.3h-6.3zM210.58 393.84h6.3v6.3h-6.3zM217.89 393.8h6.3v6.3h-6.3zM225.21 393.75h6.3v6.3h-6.3zM232.52 393.71h6.3v6.3h-6.3zM239.84 393.66h6.3v6.3h-6.3zM247.16 393.6h6.3v6.3h-6.3zM254.47 393.54h6.3v6.3h-6.3zM261.79 393.48h6.3v6.3h-6.3zM269.11 393.42h6.3v6.3h-6.3zM276.42 393.35h6.3v6.3h-6.3zM283.74 393.28h6.3v6.3h-6.3zM291.05 393.21h6.3v6.3h-6.3zM298.37 393.14h6.3v6.3h-6.3zM305.69 393.06h6.3v6.3h-6.3zM313 392.97h6.3v6.3h-6.3zM320.32 392.88h6.3v6.3h-6.3zM327.64 392.78h6.3v6.3h-6.3zM334.95 392.67h6.3v6.3h-6.3zM342.27 392.56h6.3v6.3h-6.3zM349.58 392.45h6.3v6.3h-6.3zM356.9 392.33h6.3v6.3h-6.3zM364.22 392.21h6.3v6.3h-6.3zM371.53 392.09h6.3v6.3h-6.3zM378.85 391.97h6.3v6.3h-6.3zM386.17 391.84h6.3v6.3h-6.3zM393.48 391.72h6.3v6.3h-6.3zM400.8 391.58h6.3v6.3h-6.3zM408.11 391.43h6.3v6.3h-6.3zM415.43 391.27h6.3v6.3h-6.3zM422.75 391.07h6.3v6.3h-6.3zM430.06 390.84h6.3v6.3h-6.3zM437.38 390.59h6.3v6.3h-6.3zM444.7 390.33h6.3v6.3h-6.3zM452.01 390.06h6.3v6.3h-6.3zM459.33 389.78h6.3v6.3h-6.3zM466.64 389.48h6.3v6.3h-6.3zM473.96 389.16h6.3v6.3h-6.3zM481.28 388.82h6.3v6.3h-6.3zM488.59 388.46h6.3v6.3h-6.3zM495.91 388.07h6.3v6.3h-6.3zM503.23 387.64h6.3v6.3h-6.3zM510.54 387.15h6.3v6.3h-6.3zM517.86 386.59h6.3v6.3h-6.3zM525.17 386.01h6.3v6.3h-6.3zM532.49 385.42h6.3v6.3h-6.3zM539.81 384.83h6.3v6.3h-6.3zM547.12 384.25h6.3v6.3h-6.3zM554.44 383.54h6.3v6.3h-6.3zM561.75 382.73h6.3v6.3h-6.3zM569.07 381.79h6.3v6.3h-6.3zM576.39 380.62h6.3v6.3h-6.3zM583.7 379.45h6.3v6.3h-6.3zM591.02 377.93h6.3v6.3h-6.3zM598.34 376.06h6.3v6.3h-6.3zM605.65 373.72h6.3v6.3h-6.3zM612.97 370.79h6.3v6.3h-6.3zM620.29 367.4h6.3v6.3h-6.3zM627.6 363.07h6.3v6.3h-6.3z"/>
</g>
<rect x="67.7" y="2.8" width="584.7" height="409.7" fill="none" stroke="#000" stroke-width="1.3"/>
<path fill="none" stroke="#000" stroke-width="1.1" d="M67.7 412.5v-12M67.7 2.8v12M140.79 412.5v-6M140.79 2.8v6M213.88 412.5v-12M213.88 2.8v12M286.96 412.5v-6M286.96 2.8v6M360.05 412.5v-12M360.05 2.8v12M433.14 412.5v-6M433.14 2.8v6M506.22 412.5v-12M506.22 2.8v12M579.31 412.5v-6M579.31 2.8v6M652.4 412.5v-12M652.4 2.8v12M67.7 412.5h12M652.4 412.5h-12M67.7 353.97h6M652.4 353.97h-6M67.7 295.44h12M652.4 295.44h-12M67.7 236.91h6M652.4 236.91h-6M67.7 178.39h12M652.4 178.39h-12M67.7 119.86h6M652.4 119.86h-6M67.7 61.33h12M652.4 61.33h-12M67.7 2.8h6M652.4 2.8h-6"/>
<g style="filter:grayscale(1)">
<text x="67.9" y="432.6" text-anchor="middle">0</text>
<text x="214.07" y="432.6" text-anchor="middle">5</text>
<text x="360.25" y="432.6" text-anchor="middle">10</text>
<text x="506.42" y="432.6" text-anchor="middle">15</text>
<text x="652.6" y="432.6" text-anchor="middle">20</text>
<text x="62.3" y="419.5" text-anchor="end">0</text>
<text x="62.3" y="302.44" text-anchor="end">0.1</text>
<text x="62.3" y="185.39" text-anchor="end">0.2</text>
<text x="62.3" y="68.33" text-anchor="end">0.3</text>
<text x="272.5" y="88.2">φ</text>
<text x="288.6" y="89.6" font-size="22.6">=</text>
<text x="305.1" y="88.2">0.516</text>
<text x="388.5" y="174.8">0.52</text>
<text x="492.1" y="235.2">0.53</text>
<text x="581.5" y="288.1">0.54</text>
<text x="300.62" y="455.2" font-size="22.4" font-style="italic">F</text><text x="314.57" y="464.2" font-size="16.0">e</text><text x="322.26" y="464.2" font-size="16.0">x</text><text x="336.13" y="455.2" font-size="22.4" font-style="italic">/</text><text x="349.61" y="455.2" font-size="22.4" font-style="italic">(</text><text x="356.65" y="455.2" font-size="22.4" font-style="italic">k</text><text x="368.94" y="464.2" font-size="16.0">B</text><text x="379.13" y="455.2" font-size="22.4" font-style="italic">T</text><text x="393.93" y="455.2" font-size="22.4" font-style="italic">/</text><text x="401.03" y="455.2" font-size="22.4" font-style="italic">a</text><text x="415.46" y="455.2" font-size="22.4" font-style="italic">)</text>
<g transform="translate(28.0,305) rotate(-90)"><path d="M11.5 -14.5L0.4 -8.1" stroke="#000" stroke-width="1" fill="none"/><path d="M0.9 -8.3L8.1 -2.4" stroke="#000" stroke-width="2.5" fill="none"/><path fill="#000" fill-rule="evenodd" d="M13.4 0L20.6 -15.4L21.7 -15.4L28.8 0zM15 -1.1L25.6 -1.1L20.1 -12z"/><text x="28.87" y="0" font-size="23.599999999999998" font-style="italic">z</text><text x="36.69" y="-16.2" font-size="16.0" font-style="italic">2</text><path d="M52.8 -13L59.6 -8.3" stroke="#000" stroke-width="2.5" fill="none"/><path d="M60.2 -8.1L49.4 -1.7" stroke="#000" stroke-width="1" fill="none"/><text x="63.02" y="0.4" font-size="24.4" font-style="italic">/</text><text x="71.08" y="0" font-size="24.2" font-style="italic">a</text><text x="82.79" y="-16.2" font-size="16.0" font-style="italic">2</text><text x="89.66" y="-1.5" font-size="22.4" font-style="italic">,</text><path d="M118.4 -14.5L107.3 -8.1" stroke="#000" stroke-width="1" fill="none"/><path d="M107.8 -8.3L115 -2.4" stroke="#000" stroke-width="2.5" fill="none"/><path fill="#000" fill-rule="evenodd" d="M120.3 0L127.5 -15.4L128.6 -15.4L135.7 0zM121.9 -1.1L132.5 -1.1L127 -12z"/><text x="135.79" y="0" font-size="23.599999999999998" font-style="italic">x</text><text x="144.99" y="-16.2" font-size="16.0" font-style="italic">2</text><path d="M161.1 -13L167.9 -8.3" stroke="#000" stroke-width="2.5" fill="none"/><path d="M168.5 -8.1L157.7 -1.7" stroke="#000" stroke-width="1" fill="none"/><text x="171.32" y="0.4" font-size="24.4" font-style="italic">/</text><text x="179.38" y="0" font-size="24.2" font-style="italic">a</text><text x="191.09" y="-16.2" font-size="16.0" font-style="italic">2</text></g>
</g>
</svg>
</body></html>
